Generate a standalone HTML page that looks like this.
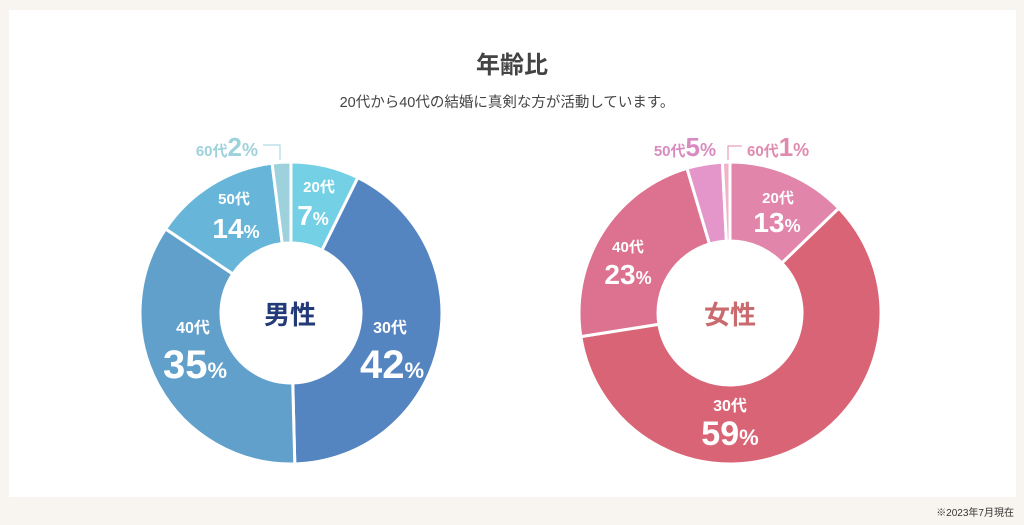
<!DOCTYPE html>
<html><head><meta charset="utf-8"><style>
html,body{margin:0;padding:0;background:#f8f5f0;width:1024px;height:525px;overflow:hidden}
svg{display:block}
text{font-family:"Liberation Sans","Noto Sans CJK JP",sans-serif}
</style></head><body>
<svg id="s" width="1024" height="525" viewBox="0 0 1024 525">
<rect x="9" y="10" width="1007" height="487" fill="#fff"/>
<text x="512" y="73" text-anchor="middle" font-size="24" font-weight="bold" fill="#444">年齢比</text>
<text x="507" y="107" text-anchor="middle" font-size="14.5" fill="#444">20代から40代の結婚に真剣な方が活動しています。</text>
<text x="1014" y="516" text-anchor="end" font-size="10" fill="#333">※2023年7月現在</text>
<g id="L"></g><g id="R"></g>
<g fill="#fff" font-weight="bold" text-anchor="middle">
<text x="319" y="192" font-size="15">20代</text>
<text x="313" y="225"><tspan font-size="28">7</tspan><tspan font-size="18">%</tspan></text>
<text x="234" y="204" font-size="15">50代</text>
<text x="236" y="238"><tspan font-size="28">14</tspan><tspan font-size="18">%</tspan></text>
<text x="193" y="333" font-size="16">40代</text>
<text x="195" y="378"><tspan font-size="40">35</tspan><tspan font-size="22">%</tspan></text>
<text x="390" y="333" font-size="16">30代</text>
<text x="392" y="378"><tspan font-size="40">42</tspan><tspan font-size="22">%</tspan></text>
<text x="778" y="203" font-size="15">20代</text>
<text x="777" y="232"><tspan font-size="28">13</tspan><tspan font-size="18">%</tspan></text>
<text x="628" y="252" font-size="15">40代</text>
<text x="628" y="284"><tspan font-size="28">23</tspan><tspan font-size="18">%</tspan></text>
<text x="730" y="411" font-size="16">30代</text>
<text x="730" y="445"><tspan font-size="34">59</tspan><tspan font-size="22">%</tspan></text>
</g>
<text x="290" y="324" text-anchor="middle" font-size="26" font-weight="bold" fill="#233a78">男性</text>
<text x="730" y="324" text-anchor="middle" font-size="26" font-weight="bold" fill="#c96b6e">女性</text>
<g font-weight="bold">
<text x="258" y="156" text-anchor="end" fill="#9dd2dc"><tspan font-size="15">60代</tspan><tspan font-size="26">2</tspan><tspan font-size="18">%</tspan></text>
<text x="716" y="156" text-anchor="end" fill="#d98bbf"><tspan font-size="15">50代</tspan><tspan font-size="26">5</tspan><tspan font-size="18">%</tspan></text>
<text x="747" y="156" fill="#e08aaf"><tspan font-size="15">60代</tspan><tspan font-size="26">1</tspan><tspan font-size="18">%</tspan></text>
</g>
<polyline points="263,145 280,145 280,160" fill="none" stroke="#9dd2dc" stroke-width="1"/>
<polyline points="728,160 728,146 742,146" fill="none" stroke="#e08aaf" stroke-width="1"/>
</svg>
<script>
function donut(id,cx,cy,R,r,data){
  var g=document.getElementById(id),tot=0,i;for(i=0;i<data.length;i++)tot+=data[i][0];
  var a=0,h='';
  for(i=0;i<data.length;i++){
    var a0=a/tot*2*Math.PI-Math.PI/2;a+=data[i][0];var a1=a/tot*2*Math.PI-Math.PI/2;
    var lg=(a1-a0)>Math.PI?1:0;
    var p=function(rr,t){return (cx+rr*Math.cos(t)).toFixed(2)+','+(cy+rr*Math.sin(t)).toFixed(2)};
    h+='<path d="M'+p(R,a0)+'A'+R+','+R+' 0 '+lg+' 1 '+p(R,a1)+'L'+p(r,a1)+'A'+r+','+r+' 0 '+lg+' 0 '+p(r,a0)+'Z" fill="'+data[i][1]+'" stroke="#fff" stroke-width="3"/>';
  }
  g.innerHTML=h;
}
donut('L',291,313,151,70,[[7.3,'#74d0e4'],[42.3,'#5585c0'],[34.8,'#62a0cc'],[13.6,'#67b6d9'],[2,'#9dd2dc']]);
donut('R',730,313,151,72,[[12.8,'#e185ab'],[59.7,'#d96475'],[22.9,'#dc728f'],[3.8,'#e495c9'],[0.8,'#f0b3cb']]);
</script>
</body></html>
